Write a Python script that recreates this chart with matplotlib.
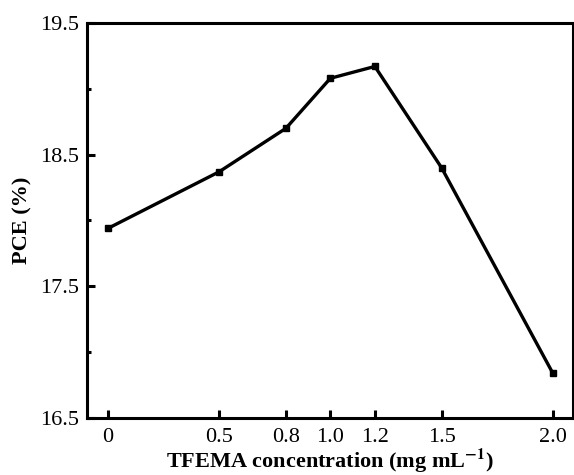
import matplotlib
matplotlib.use("Agg")
import matplotlib.pyplot as plt
from matplotlib.ticker import MultipleLocator

conc = [0, 0.5, 0.8, 1.0, 1.2, 1.5, 2.0]
pce = [17.94, 18.37, 18.70, 19.08, 19.17, 18.40, 16.84]
xtick_labels = ["0", "0.5", "0.8", "1.0", "1.2", "1.5", "2.0"]
ytick_vals = [16.5, 17.5, 18.5, 19.5]

plt.rcParams['font.family'] = ['Liberation Serif', 'DejaVu Serif']
plt.rcParams['mathtext.fontset'] = 'stix'

fig = plt.figure(figsize=(5.74, 4.75), dpi=100)
ax = fig.add_axes([0.1516, 0.12, 0.8464, 0.8316])

ax.plot(conc, pce, color='black', linewidth=2.4, marker='s', markersize=4.5)

ax.set_xlim(-0.094, 2.09)
ax.set_ylim(16.5, 19.5)
ax.set_xticks(conc)
ax.set_xticklabels(xtick_labels)
ax.set_yticks(ytick_vals)
ax.set_yticklabels([f"{v:.1f}" for v in ytick_vals])
ax.yaxis.set_minor_locator(MultipleLocator(0.5))

ax.tick_params(axis='x', which='major', direction='in', length=6, width=2.2,
               labelsize=16, top=False, pad=7)
ax.tick_params(axis='y', which='major', direction='in', length=6, width=2.2,
               labelsize=16, right=False, pad=6)
ax.tick_params(axis='y', which='minor', direction='in', length=3, width=2.2,
               right=False)
for s in ax.spines.values():
    s.set_linewidth(2.2)

ax.set_xlabel(r'TFEMA concentration (mg mL$^{\mathbf{-1}}$)', fontsize=16,
              fontweight='bold', labelpad=0)
ax.set_ylabel('PCE (%)', fontsize=16, fontweight='bold', labelpad=5)

fig.savefig('out.png', dpi=100)
